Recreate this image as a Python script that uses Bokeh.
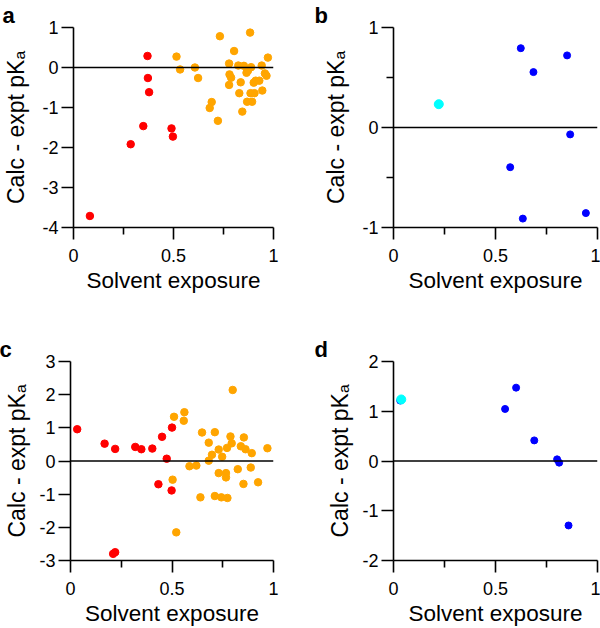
from bokeh.plotting import figure
from bokeh.models import Range1d, FixedTicker, Span, Title, NumeralTickFormatter
from bokeh.layouts import column, row
from bokeh.embed import file_html
from bokeh.resources import INLINE

# ---------------- data ----------------
# panel a
a_red_x = [0.370, 0.372, 0.378, 0.349, 0.286, 0.490, 0.497, 0.082]
a_red_y = [0.288, -0.263, -0.617, -1.465, -1.918, -1.523, -1.728, -3.712]
a_org_x = [0.515, 0.533, 0.607, 0.623, 0.732, 0.883, 0.803, 0.778, 0.972, 0.780,
           0.788, 0.778, 0.824, 0.852, 0.888, 0.865, 0.872, 0.836, 0.829, 0.941,
           0.957, 0.965, 0.911, 0.901, 0.929, 0.944, 0.885, 0.905, 0.868, 0.893,
           0.844, 0.691, 0.681, 0.722]
a_org_y = [0.272, -0.049, 0.000, -0.263, 0.782, 0.872, 0.412, 0.099, 0.247, -0.173,
           -0.255, -0.436, 0.049, 0.041, 0.008, -0.132, -0.082, -0.370, -0.642, 0.049,
           -0.148, -0.206, -0.329, -0.379, -0.329, -0.576, -0.642, -0.642, -0.856, -0.856,
           -1.103, -0.864, -1.012, -1.333]
# panel b
b_cyan_x = [0.222]
b_cyan_y = [0.233]
b_blue_x = [0.624, 0.686, 0.851, 0.866, 0.572, 0.634, 0.943]
b_blue_y = [0.793, 0.554, 0.721, -0.069, -0.397, -0.911, -0.856]
# panel c
c_red_x = [0.033, 0.168, 0.220, 0.319, 0.349, 0.403, 0.451, 0.500, 0.474, 0.433, 0.498, 0.210, 0.220]
c_red_y = [0.958, 0.523, 0.365, 0.424, 0.355, 0.375, 0.730, 1.007, 0.069, -0.701, -0.888, -2.80, -2.75]
c_org_x = [0.510, 0.561, 0.558, 0.503, 0.521, 0.586, 0.620, 0.648, 0.640, 0.681,
           0.697, 0.681, 0.711, 0.730, 0.747, 0.730, 0.711, 0.743, 0.773, 0.766,
           0.766, 0.771, 0.788, 0.794, 0.799, 0.824, 0.839, 0.854, 0.862, 0.852,
           0.888, 0.893, 0.924, 0.970]
c_org_y = [1.333, 1.471, 1.214, -0.563, -2.152, -0.158, -0.138, 0.859, -1.096, 0.553,
           0.188, 0.010, 0.869, 0.346, 0.128, -0.365, -1.056, -1.096, -1.115, -0.365,
           -0.494, 0.395, 0.740, 0.533, 2.142, -0.247, 0.444, 0.711, 0.355, -0.691,
           -0.197, 0.237, -0.642, 0.385]
# panel d
d_cyan_x = [0.038]
d_cyan_y = [1.237]
d_blue_x = [0.033, 0.601, 0.547, 0.690, 0.802, 0.812, 0.858]
d_blue_y = [1.215, 1.474, 1.046, 0.414, 0.033, -0.033, -1.296]

x_ticks = [0, 0.5, 1]
x_minor = [0.25, 0.75]
x_label = "Solvent exposure"
y_label = "Calc - expt pKₐ"

RED = "#FF0000"
ORANGE = "#FFA500"
BLUE = "#0000FF"
CYAN = "#00FFFF"
FONT = "Liberation Sans"


def make_panel(letter, letter_offset, ylo, yhi, yticks, yminor, width, height,
               bl, br, bt, bb, ylab_standoff):
    p = figure(width=width, height=height, x_range=Range1d(0, 1), y_range=Range1d(ylo, yhi),
               output_backend="svg", toolbar_location=None,
               min_border_left=bl, min_border_right=br, min_border_top=bt, min_border_bottom=bb)
    p.grid.visible = False
    p.outline_line_color = None
    p.background_fill_color = "white"
    p.border_fill_color = "white"
    p.xaxis.ticker = FixedTicker(ticks=x_ticks, minor_ticks=x_minor)
    p.yaxis.ticker = FixedTicker(ticks=yticks, minor_ticks=yminor)
    p.xaxis.formatter = NumeralTickFormatter(format="0.[0]")
    p.yaxis.formatter = NumeralTickFormatter(format="0.[0]")
    for ax in (p.xaxis[0], p.yaxis[0]):
        ax.axis_line_width = 1.6
        ax.axis_line_color = "black"
        ax.major_tick_line_width = 1.6
        ax.minor_tick_line_width = 1.6
        ax.major_tick_line_color = "black"
        ax.minor_tick_line_color = "black"
        ax.major_tick_out = 12
        ax.major_tick_in = 0
        ax.minor_tick_out = 7
        ax.minor_tick_in = 0
        ax.major_label_text_font = FONT
        ax.major_label_text_font_size = "18px"
        ax.major_label_text_color = "black"
        ax.axis_label_text_font = FONT
        ax.axis_label_text_font_style = "normal"
        ax.axis_label_text_color = "black"
    p.xaxis.major_label_standoff = 9
    p.yaxis.major_label_standoff = 3
    p.xaxis.axis_label = x_label
    p.xaxis.axis_label_text_font_size = "22.5px"
    p.xaxis.axis_label_standoff = 3
    p.yaxis.axis_label = y_label
    p.yaxis.axis_label_text_font_size = "23px"
    p.yaxis.axis_label_standoff = ylab_standoff
    p.add_layout(Span(location=0, dimension="width", line_color="black", line_width=1.6))
    t = Title(text=letter, align="left", offset=letter_offset, standoff=0,
              text_font=FONT, text_font_size="22px", text_font_style="bold", text_color="black")
    p.add_layout(t, "above")
    return p


pa = make_panel("a", -71, -4, 1, [-4, -3, -2, -1, 0, 1], [], 313, 334, 70, 40, 25, 107, 10)
pa.scatter(a_org_x, a_org_y, size=7.5, color=ORANGE)
pa.scatter(a_red_x, a_red_y, size=7.5, color=RED)

pb = make_panel("b", -79, -1, 1, [-1, 0, 1], [-0.5, 0.5], 287, 334, 80, 3, 25, 107, 10)
pb.scatter(b_blue_x, b_blue_y, size=7, color=BLUE)
pb.scatter(b_cyan_x, b_cyan_y, size=9, color=CYAN)

pc = make_panel("c", -71, -3, 3, [-3, -2, -1, 0, 1, 2, 3], [], 313, 294, 70, 40, 25, 67, 6)
pc.scatter(c_red_x, c_red_y, size=7.5, color=RED)
pc.scatter(c_org_x, c_org_y, size=7.5, color=ORANGE)

pd_ = make_panel("d", -79, -2, 2, [-2, -1, 0, 1, 2], [], 287, 294, 80, 3, 25, 67, 6)
pd_.scatter(d_blue_x, d_blue_y, size=7, color=BLUE)
pd_.scatter(d_cyan_x, d_cyan_y, size=9, color=CYAN)

layout = column(row(pa, pb), row(pc, pd_))
open("out.html", "w").write(file_html(layout, INLINE))
